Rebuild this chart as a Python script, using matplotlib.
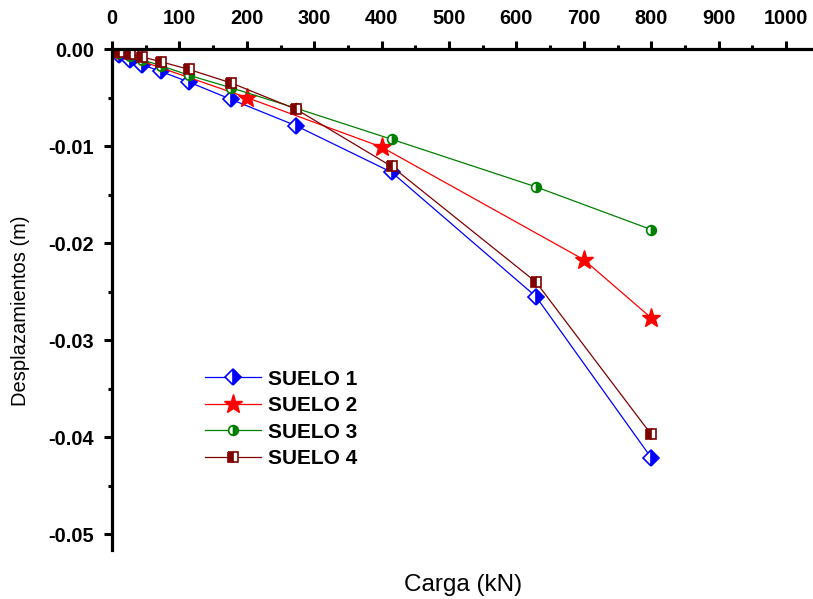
import matplotlib
matplotlib.use("Agg")
import matplotlib.pyplot as plt
from matplotlib.ticker import MultipleLocator

plt.rcParams['font.family'] = ['Liberation Sans', 'DejaVu Sans']

# load steps (kN) and settlements (m)
carga = [10, 26, 44, 72, 114, 177, 273, 415, 629, 800]
carga_s2 = [0, 200, 400, 700, 800]

suelo1 = [-0.0006, -0.0011, -0.0016, -0.0023, -0.0034, -0.0052, -0.0079, -0.0127, -0.0255, -0.0421]
suelo2 = [-0.0002, -0.0050, -0.0101, -0.0217, -0.0277]
suelo3 = [-0.0004, -0.0007, -0.0011, -0.0017, -0.0027, -0.0040, -0.0061, -0.0093, -0.0142, -0.0186]
suelo4 = [-0.0003, -0.0005, -0.0008, -0.0013, -0.0021, -0.0035, -0.0062, -0.0121, -0.0240, -0.0397]

fig = plt.figure(figsize=(8.13, 5.99), dpi=100)
ax = fig.add_axes([112 / 813, 49 / 599, 701 / 813, 501 / 599])

ax.plot(carga, suelo1, color='#0000FF', lw=0.9, marker='D', ms=8,
        fillstyle='right', markerfacecolor='#0000FF', markerfacecoloralt='white',
        markeredgecolor='#0000FF', markeredgewidth=1.2, label='SUELO 1')
ax.plot(carga_s2, suelo2, color='#FF0000', lw=0.9, marker='*', ms=14,
        markerfacecolor='#FF0000', markeredgecolor='#FF0000', label='SUELO 2')
ax.plot(carga, suelo3, color='#008000', lw=0.9, marker='o', ms=7,
        fillstyle='right', markerfacecolor='#008000', markerfacecoloralt='white',
        markeredgecolor='#008000', markeredgewidth=1.2, label='SUELO 3')
ax.plot(carga, suelo4, color='#800000', lw=0.9, marker='s', ms=6.5,
        fillstyle='left', markerfacecolor='#800000', markerfacecoloralt='white',
        markeredgecolor='#800000', markeredgewidth=1.2, label='SUELO 4')

ax.set_xlim(0, 1040)
ax.set_ylim(-0.0516, 0)

ax.xaxis.tick_top()
ax.xaxis.set_major_locator(MultipleLocator(100))
ax.xaxis.set_minor_locator(MultipleLocator(50))
ax.yaxis.set_major_locator(MultipleLocator(0.01))
ax.yaxis.set_minor_locator(MultipleLocator(0.005))
ax.yaxis.set_major_formatter(lambda v, p: "0.00" if abs(v) < 1e-9 else f"{v:.2f}")

for side in ('right', 'bottom'):
    ax.spines[side].set_visible(False)
for side in ('left', 'top'):
    ax.spines[side].set_linewidth(2.3)

ax.tick_params(which='major', direction='out', length=6, width=2.2, labelsize=14.4)
ax.tick_params(which='minor', direction='out', length=3, width=2.2)
ax.tick_params(axis='x', which='major', pad=9)
ax.tick_params(axis='y', which='major', pad=7)
for lbl in ax.get_xticklabels() + ax.get_yticklabels():
    lbl.set_fontweight('bold')

fig.text(20 / 813, 1 - 311 / 599, 'Desplazamientos (m)', fontsize=14.5,
         rotation=90, ha='center', va='center')
fig.text(463 / 813, 1 - 585 / 599, 'Carga (kN)', fontsize=17.5, ha='center', va='center')

leg = ax.legend(loc='upper left', bbox_to_anchor=(0.133, 0.36), frameon=False,
                prop={'weight': 'bold', 'size': 15}, handlelength=2.7,
                handletextpad=0.3, labelspacing=0.36, borderpad=0, borderaxespad=0)

fig.savefig('out.png', dpi=100)
